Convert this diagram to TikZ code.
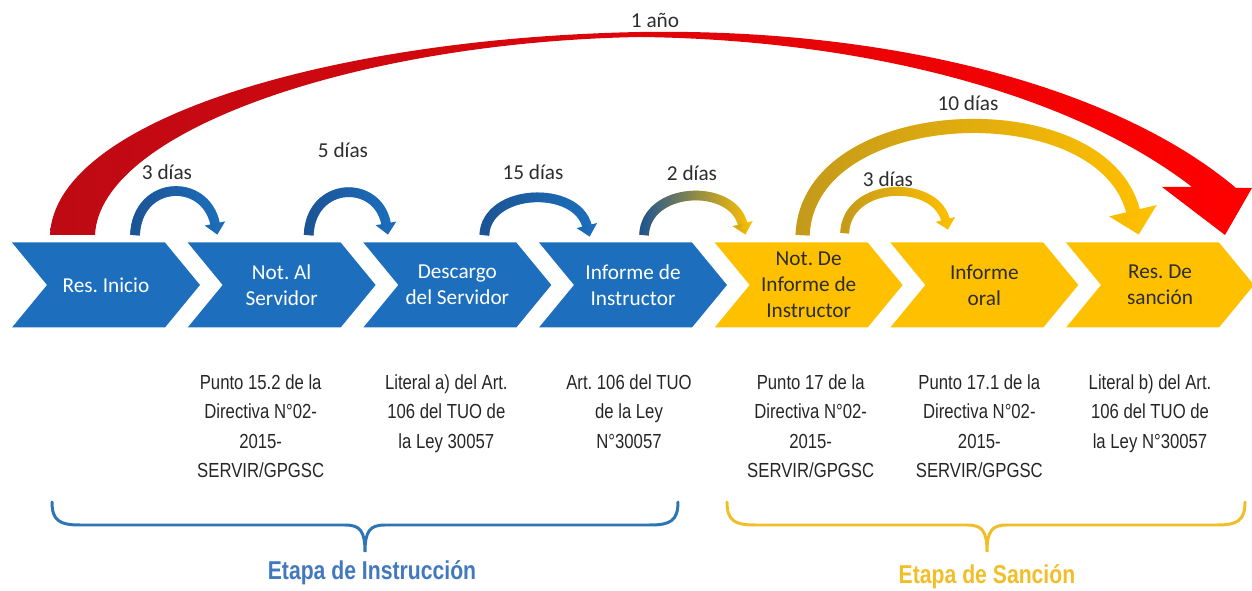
\documentclass[tikz,border=0pt]{standalone}
\usepackage{fontspec}
\setmainfont{Carlito}
\newfontfamily\narrowfont[FakeStretch=0.82]{Liberation Sans}
\usetikzlibrary{positioning,calc,arrows.meta,fadings}
\frenchspacing

\definecolor{instblue}{RGB}{29,111,189}
\definecolor{instdark}{RGB}{28,84,148}
\definecolor{sancyellow}{RGB}{255,192,0}
\definecolor{sancdark}{RGB}{196,154,28}
\definecolor{reddark}{RGB}{190,10,20}
\definecolor{redlight}{RGB}{255,0,0}
\definecolor{txtgray}{RGB}{45,45,45}
\definecolor{normgray}{RGB}{38,38,38}
\definecolor{braceblue}{RGB}{46,117,182}
\definecolor{etapablue}{RGB}{65,120,190}
\definecolor{braceyellow}{RGB}{242,190,40}

\tikzset{
  chev/.style={rectangle, minimum width=3.76cm, minimum height=1.7cm, inner sep=0pt,
    align=center, font=\fontsize{12.1}{14.8}\selectfont,
    path picture={\fill[#1] (path picture bounding box.north west)
      -- ([xshift=-0.7cm]path picture bounding box.north east)
      -- (path picture bounding box.east)
      -- ([xshift=-0.7cm]path picture bounding box.south east)
      -- (path picture bounding box.south west)
      -- ([xshift=0.7cm]path picture bounding box.west) -- cycle;}},
  instr/.style={chev=instblue, text=white},
  sanc/.style={chev=sancyellow, text=txtgray},
  norma/.style={align=center, inner sep=0pt, text=normgray,
    font=\narrowfont\fontsize{11.6}{16.7}\selectfont},
  dias/.style={inner sep=1pt, text=txtgray, font=\fontsize{12.1}{14.8}\selectfont},
  etapa/.style={inner sep=1pt, font=\narrowfont\bfseries\fontsize{14.7}{17}\selectfont},
  plazo/.style n args={3}{line width=#1, -{Triangle[width=#2, length=#3]}},
  tono/.style 2 args={draw=#2, postaction={draw=#1, path fading=east}},
  llave/.style={draw=#1, line width=1.7pt, line cap=round}
}

\begin{document}
\begin{tikzpicture}[x=0.02cm, y=0.02cm]
  \useasboundingbox (0,0) rectangle (1252,591);

  % etapas
  \node[instr] (s1) at (106,306) {Res. Inicio};
  \node[instr, right=-0.26cm of s1] (s2) {Not. Al\\Servidor};
  \node[instr, right=-0.26cm of s2] (s3) {Descargo\\del Servidor};
  \node[instr, right=-0.26cm of s3] (s4) {Informe de\\Instructor};
  \node[sanc, right=-0.26cm of s4] (s5) {Not. De\\Informe de\\Instructor};
  \node[sanc, right=-0.26cm of s5] (s6) {Informe\\oral};
  \node[sanc, right=-0.26cm of s6] (s7) {Res. De\\sanción};

  % base legal
  \node[norma, below=0.93cm of s2, xshift=-0.42cm] (n2) {Punto 15.2 de la\\Directiva N°02-\\2015-\\SERVIR/GPGSC};
  \node[norma, below=0.93cm of s3, xshift=-0.22cm] (n3) {Literal a) del Art.\\106 del TUO de\\la Ley 30057};
  \node[norma, below=0.93cm of s4, xshift=-0.08cm] (n4) {Art. 106 del TUO\\de la Ley\\N°30057};
  \node[norma, below=0.93cm of s5, xshift=0.04cm] (n5) {Punto 17 de la\\Directiva N°02-\\2015-\\SERVIR/GPGSC};
  \node[norma, below=0.93cm of s6, xshift=-0.1cm] (n6) {Punto 17.1 de la\\Directiva N°02-\\2015-\\SERVIR/GPGSC};
  \node[norma, below=0.93cm of s7, xshift=-0.2cm] (n7) {Literal b) del Art.\\106 del TUO de\\la Ley N°30057};

  % plazo total
  \shade[left color=reddark, right color=redlight]
    (50,356) .. controls (55,471) and (330,553) .. (640,559)
    .. controls (900,563) and (1120,501) .. (1236,403)
    -- (1252,403) -- (1225,356) -- (1162,404) -- (1192,404)
    .. controls (1080,491) and (880,551) .. (640,554)
    .. controls (360,549) and (100,461) .. (95,356) -- cycle;
  \node[dias] (t0) at (655,571) {1 año};

  % plazos parciales
  \draw[plazo={5.5pt}{11.5pt}{6.5pt}, tono={instdark}{instblue}]
    ($(s1.north)+(29,7)$) .. controls +(2,55) and +(-12,58) .. ($(s2.north west)+(30,7.5)$);
  \draw[plazo={5.5pt}{11.5pt}{6.5pt}, tono={instdark}{instblue}]
    ($(s2.north)+(27,7)$) .. controls +(2,54) and +(-10,56) .. ($(s3.north west)+(25,7.5)$);
  \draw[plazo={5.5pt}{11.5pt}{6.5pt}, tono={instdark}{instblue}]
    ($(s3.north)+(27,7)$) .. controls +(2,47) and +(-13,52) .. ($(s4.north west)+(51,5.5)$);
  \draw[plazo={5.5pt}{11.5pt}{6.5pt}, tono={instdark}{sancyellow}]
    ($(s4.north)+(11,7)$) .. controls +(2,49) and +(-13,52) .. ($(s5.north west)+(31,7.5)$);
  \draw[plazo={5pt}{11pt}{6pt}, tono={sancdark}{sancyellow}]
    ($(s5.north)+(36,9)$) .. controls +(2,52) and +(-13,51) .. ($(s6.north west)+(58,12.5)$);
  \draw[plazo={8pt}{27pt}{14pt}, tono={sancdark}{sancyellow}]
    ($(s5.north)+(-6,7)$) .. controls +(5,136) and +(-35,146) .. ($(s7.north west)+(73,7.5)$);

  \node[dias] (d1) at (167,419) {3 días};
  \node[dias] (d2) at (343,441) {5 días};
  \node[dias] (d3) at (533,419) {15 días};
  \node[dias] (d4) at (692,418) {2 días};
  \node[dias] (d5) at (888,412) {3 días};
  \node[dias] (d6) at (968,488) {10 días};

  % llaves
  \draw[llave=braceblue] (52,89) .. controls (52,70) and (60,66) .. (80,66) -- (345,66)
    .. controls (360,66) and (365,60) .. (365,39) .. controls (365,60) and (370,66) .. (385,66)
    -- (650,66) .. controls (670,66) and (678,70) .. (678,89);
  \draw[llave=braceyellow] (727,89) .. controls (727,70) and (735,66) .. (755,66) -- (967,66)
    .. controls (982,66) and (987,60) .. (987,39) .. controls (987,60) and (992,66) .. (1007,66)
    -- (1217,66) .. controls (1237,66) and (1245,70) .. (1245,89);
  \node[etapa, text=etapablue] (e1) at (372,18) {Etapa de Instrucción};
  \node[etapa, text=braceyellow] (e2) at (987,14) {Etapa de Sanción};
\end{tikzpicture}
\end{document}
